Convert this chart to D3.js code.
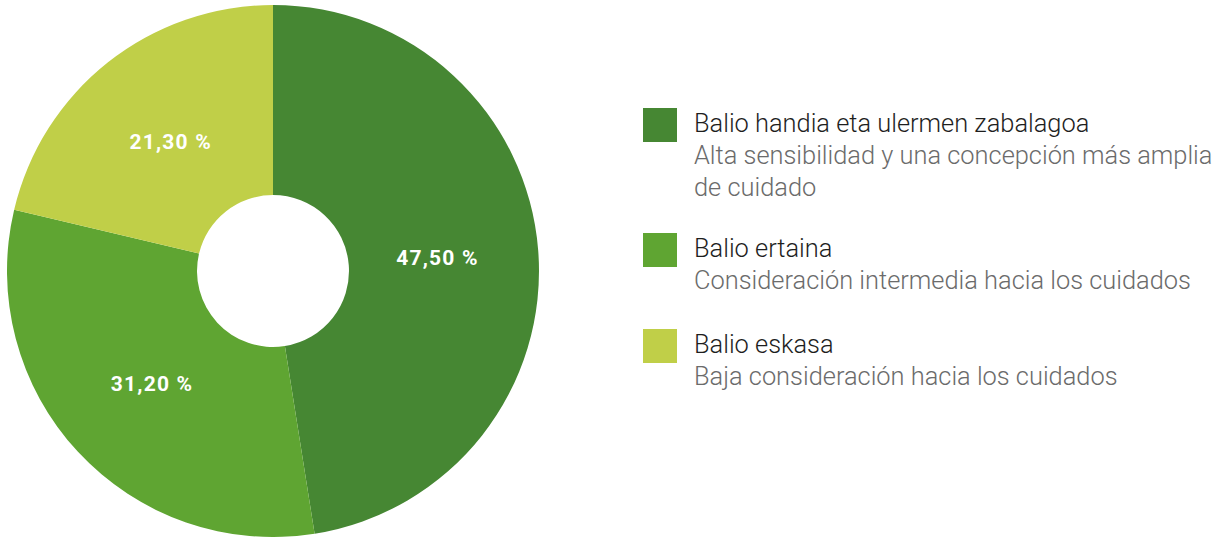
<!DOCTYPE html>
<html>
<head>
<meta charset="utf-8">
<script src="https://cdn.jsdelivr.net/npm/d3@7"></script>
<style>
  html, body { margin: 0; padding: 0; background: #fff; }
  svg { display: block; }
</style>
</head>
<body>
<div id="chart"></div>
<script>
var categories = ['Balio handia eta ulermen zabalagoa', 'Balio ertaina', 'Balio eskasa']
var descriptions = [
  ['Alta sensibilidad y una concepción más amplia', 'de cuidado'],
  ['Consideración intermedia hacia los cuidados'],
  ['Baja consideración hacia los cuidados']
]
var values = [47.5, 31.2, 21.3]
var colors = ['#468733', '#5fa532', '#c0cf48']

var width = 1227
var height = 537
var radius = 266
var innerRadius = 76
var cx = 273
var cy = 271

var data = categories.map(function (c, i) {
  return { name: c, desc: descriptions[i], value: values[i], color: colors[i] }
})

var svg = d3.select('#chart').append('svg')
  .attr('width', width)
  .attr('height', height)

var pie = d3.pie()
  .sort(null)
  .value(function (d) { return d.value })

var arc = d3.arc()
  .innerRadius(innerRadius)
  .outerRadius(radius)

// labels sit roughly at 62% of the outer radius
var labelArc = d3.arc()
  .innerRadius(165)
  .outerRadius(165)

var gPie = svg.append('g')
  .attr('transform', 'translate(' + cx + ',' + cy + ')')

gPie.selectAll('path')
    .data(pie(data))
  .enter().append('path')
    .attr('d', arc)
    .attr('fill', function (d) { return d.data.color })

var fmt = function (v) { return v.toFixed(2).replace('.', ',') + ' %' }

gPie.selectAll('text')
    .data(pie(data))
  .enter().append('text')
    .attr('transform', function (d) { return 'translate(' + labelArc.centroid(d) + ')' })
    .attr('text-anchor', 'middle')
    .attr('dy', '0.35em')
    .attr('fill', '#fff')
    .style('font-family', 'Roboto, sans-serif')
    .style('font-weight', 'bold')
    .style('font-size', '21px')
    .style('letter-spacing', '1.2px')
    .text(function (d) { return fmt(d.data.value) })

// legend
var legend = svg.append('g')
  .attr('transform', 'translate(643,108)')

var item = legend.selectAll('g')
    .data(data)
  .enter().append('g')
    .attr('transform', function (d, i) { return 'translate(0,' + (i === 0 ? 0 : 125 + (i - 1) * 96) + ')' })

item.append('rect')
  .attr('width', 34)
  .attr('height', 34)
  .attr('fill', function (d) { return d.color })

item.append('text')
  .attr('x', 51)
  .attr('y', 24)
  .attr('fill', '#1e1e1e')
  .style('font-family', 'Roboto, sans-serif')
  .style('font-weight', 300)
  .style('font-size', '25.4px')
  .text(function (d) { return d.name })

item.each(function (d) {
  var g = d3.select(this)
  d.desc.forEach(function (line, j) {
    g.append('text')
      .attr('x', 51)
      .attr('y', 56 + j * 32)
      .attr('fill', '#6b6b6b')
      .style('font-family', 'Roboto, sans-serif')
      .style('font-weight', 300)
      .style('font-size', '25.4px')
      .text(line)
  })
})
</script>
</body>
</html>
